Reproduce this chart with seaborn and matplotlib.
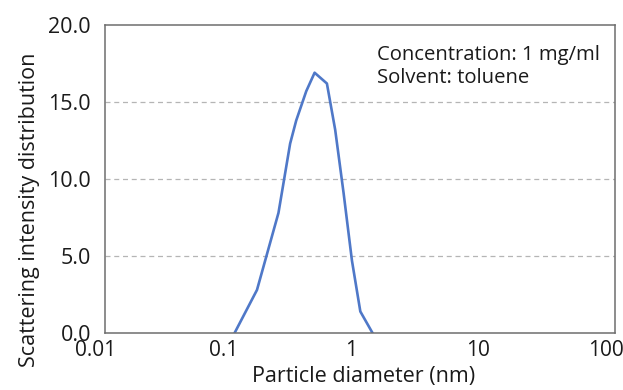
import matplotlib
matplotlib.use("Agg")
import matplotlib.pyplot as plt
import matplotlib.transforms as mtransforms
import seaborn as sns
import pandas as pd
from matplotlib.ticker import FixedLocator, FixedFormatter, NullLocator

# Particle size distribution (DLS), scattering intensity vs diameter
diameter_nm = [0.104, 0.156, 0.230, 0.284, 0.317, 0.380, 0.442, 0.552, 0.641, 0.746, 0.868, 1.01, 1.26]
intensity = [0.0, 2.8, 7.8, 12.3, 13.8, 15.7, 16.9, 16.2, 13.2, 9.1, 4.7, 1.4, 0.0]

x_ticks = [0.01, 0.1, 1, 10, 100]
x_tick_labels = ["0.01", "0.1", "1", "10", "100"]
y_ticks = [0.0, 5.0, 10.0, 15.0, 20.0]
y_tick_labels = ["0.0", "5.0", "10.0", "15.0", "20.0"]

df = pd.DataFrame({"diameter": diameter_nm, "intensity": intensity})

sns.set_theme(style="white")
plt.rcParams["font.family"] = ["Open Sans", "DejaVu Sans"]

text_color = "#1a1a1a"
frame_color = "#6e6e6e"

fig = plt.figure(figsize=(6.23, 3.9), dpi=100)
ax = fig.add_axes([0.1685, 0.146, 0.818, 0.790])

sns.lineplot(data=df, x="diameter", y="intensity", sort=False, ax=ax,
             color="#4f78c8", linewidth=1.9)

ax.set_xscale("log")
ax.set_xlim(0.01, 100)
ax.set_ylim(0, 20)

ax.xaxis.set_major_locator(FixedLocator(x_ticks))
ax.xaxis.set_major_formatter(FixedFormatter(x_tick_labels))
ax.xaxis.set_minor_locator(NullLocator())
ax.yaxis.set_major_locator(FixedLocator(y_ticks))
ax.yaxis.set_major_formatter(FixedFormatter(y_tick_labels))

for y in y_ticks[1:-1]:
    ax.axhline(y, color="#b5b5b5", linestyle=(0, (4, 3)), linewidth=0.9, zorder=0)

for side in ax.spines.values():
    side.set_color(frame_color)
    side.set_linewidth(1.1)

ax.tick_params(axis="both", direction="in", width=0.9, color=frame_color,
               labelcolor=text_color)
ax.tick_params(axis="y", length=0, pad=10, labelsize=15.5)
ax.tick_params(axis="x", length=4, pad=5, labelsize=15)

# x tick labels sit slightly left of their ticks
shift = mtransforms.ScaledTranslation(-9 / 100, 0, fig.dpi_scale_trans)
for lbl in ax.get_xticklabels():
    lbl.set_transform(lbl.get_transform() + shift)

ax.set_xlabel("Particle diameter (nm)", fontsize=15.5, color=text_color)
ax.set_ylabel("Scattering intensity distribution", fontsize=15.5, color=text_color)
ax.xaxis.set_label_coords(0.507, -0.108)
ax.yaxis.set_label_coords(-0.128, 0.40)

ax.text(0.533, 0.935, "Concentration: 1 mg/ml\nSolvent: toluene", transform=ax.transAxes,
        ha="left", va="top", fontsize=14.6, color=text_color, linespacing=1.2)

fig.savefig("out.png", dpi=100)
